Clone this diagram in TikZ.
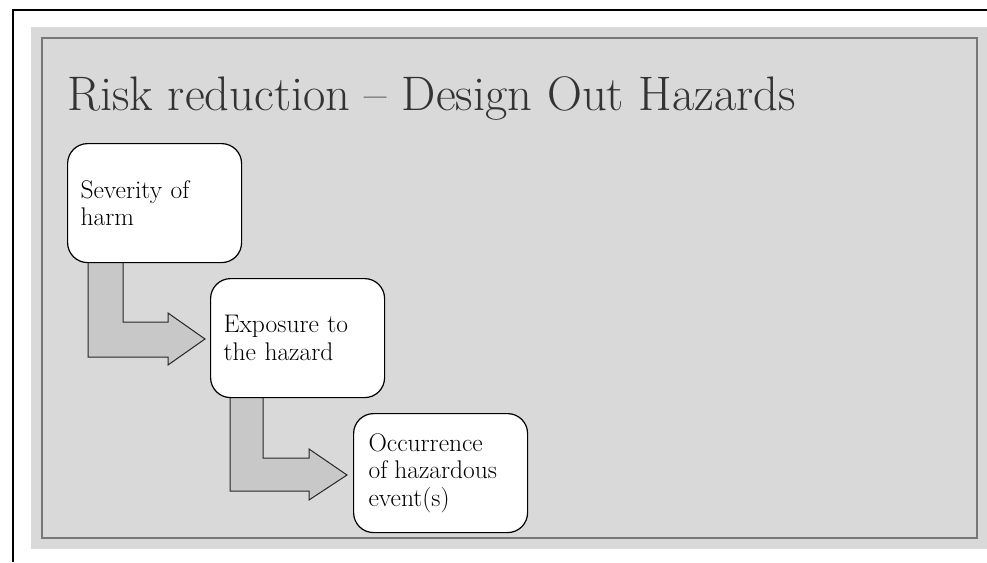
\documentclass[tikz,border=0pt]{standalone}
\usetikzlibrary{calc}
\definecolor{slidebg}{HTML}{D9D9D9}
\definecolor{slideedge}{HTML}{777777}
\definecolor{arrowfill}{HTML}{C8C8C8}
\definecolor{titlegrey}{HTML}{333333}
\begin{document}
\begin{tikzpicture}[x=1pt,y=-1pt,
  stepbox/.style={draw=black,line width=1.2pt,fill=white,rounded corners=20pt,
    minimum width=174pt,minimum height=119pt,text width=148pt,inner xsep=13pt,
    align=left,anchor=north west,font=\fontsize{25.5}{27.5}\selectfont},
  bentarrow/.style={draw=black!85,line width=1pt,fill=arrowfill,line join=miter}]
\useasboundingbox (0,0) rectangle (987,562);
\fill[white] (0,0) rectangle (987,562);
\draw[line width=2.2pt,black] (13,562) -- (13,10) -- (987,10);
\fill[slidebg] (31,27) rectangle (987,549);
\draw[slideedge,line width=1.5pt] (42,38) rectangle (977,538);
\node[anchor=base west,inner sep=0pt,text=titlegrey,font=\fontsize{48.5}{56}\selectfont] (title) at (67,110) {Risk reduction -- Design Out Hazards};
% arrows first (boxes drawn over them)
\coordinate (b1sw) at (67,263);
\coordinate (b2sw) at (210,398);
\coordinate (b2w) at (210,339);
\coordinate (b3w) at (353,475);
\draw[bentarrow] ($(b1sw)+(21,-2)$) -- ($(b1sw)+(21,94)$) -- ($(b1sw)+(101,94)$) -- ($(b1sw)+(101,102)$)
  -- ($(b2w)+(-5,0)$) -- ($(b1sw)+(101,50)$) -- ($(b1sw)+(101,59)$) -- ($(b1sw)+(56,59)$) -- ($(b1sw)+(56,-2)$) -- cycle;
\draw[bentarrow] ($(b2sw)+(20,-2)$) -- ($(b2sw)+(20,93)$) -- ($(b2sw)+(99,93)$) -- ($(b2sw)+(99,102)$)
  -- ($(b3w)+(-6,0)$) -- ($(b2sw)+(99,51)$) -- ($(b2sw)+(99,60)$) -- ($(b2sw)+(53,60)$) -- ($(b2sw)+(53,-2)$) -- cycle;
\node[stepbox] (b1) at (67,143) {Severity of\\harm};
\node[stepbox] (b2) at (210,278) {Exposure to\\the hazard};
\node[stepbox,inner xsep=15pt,text width=144pt] (b3) at (353,413) {Occurrence\\of\hspace{7pt}hazardous\\event(s)};
\end{tikzpicture}
\end{document}
